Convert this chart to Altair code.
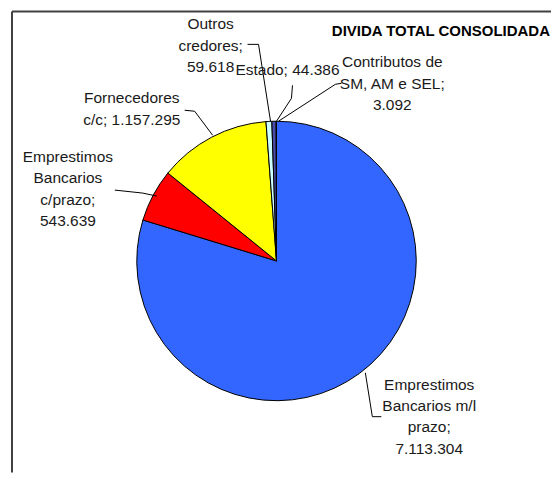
import altair as alt
import pandas as pd

# ---- data ----
categorias = [
    "Emprestimos Bancarios m/l prazo",
    "Emprestimos Bancarios c/prazo",
    "Fornecedores c/c",
    "Outros credores",
    "Estado",
    "Contributos de SM, AM e SEL",
]
valores = [7113304, 543639, 1157295, 59618, 44386, 3092]
cores = ["#3366FF", "#FF0000", "#FFFF00", "#CCFFFF", "#4B4BA8", "#1A1A66"]
rotulo_linhas = [
    ["Emprestimos", "Bancarios m/l", "prazo;", "{v}"],
    ["Emprestimos", "Bancarios", "c/prazo;", "{v}"],
    ["Fornecedores", "c/c; {v}"],
    ["Outros", "credores;", "{v}"],
    ["Estado; {v}"],
    ["Contributos de", "SM, AM e SEL;", "{v}"],
]
titulo = "DIVIDA TOTAL CONSOLIDADA"

# ---- layout (pixel positions of annotations) ----
W, H = 544, 465
CX, CY, R = 269, 253, 140
ancora_rotulo = [(422, 377), (60, 149), (124, 90), (203, 16), (280, 62), (385, 54)]
ESPACO = 21.3
guias = [
    [(358, 365), (365, 409), (374, 409)],
    [(107, 182), (135, 185), (149, 188)],
    [(177, 102), (187, 103), (205, 127)],
    [(240, 36), (251, 36), (263, 113)],
    [(285, 77), (284, 90), (269, 113)],
    [(334, 75), (328, 76), (271, 113)],
]


def fmt(v):
    return f"{v:,}".replace(",", ".")


pie_df = pd.DataFrame({
    "categoria": categorias,
    "valor": valores,
    "ordem": list(range(len(categorias))),
})

txt_rows = []
for i, linhas in enumerate(rotulo_linhas):
    ax, ay = ancora_rotulo[i]
    for j, ln in enumerate(linhas):
        txt_rows.append({"t": ln.format(v=fmt(valores[i])), "x": ax, "y": ay + j * ESPACO})
txt_df = pd.DataFrame(txt_rows)

g_rows = []
for i, pts in enumerate(guias):
    for k, (px, py) in enumerate(pts):
        g_rows.append({"g": i, "k": k, "x": px, "y": py})
g_df = pd.DataFrame(g_rows)

xs = alt.Scale(domain=[0, W], range=[0, W])
ys = alt.Scale(domain=[0, H], range=[0, H])

pie = alt.Chart(pie_df).mark_arc(radius=R, stroke="black", strokeWidth=1).encode(
    theta=alt.Theta("valor:Q", stack=True),
    order=alt.Order("ordem:Q"),
    color=alt.Color("categoria:N", scale=alt.Scale(domain=categorias, range=cores), legend=None),
    x=alt.value(CX),
    y=alt.value(CY),
)

linhas = alt.Chart(g_df).mark_line(color="black", strokeWidth=1).encode(
    x=alt.X("x:Q", scale=xs, axis=None),
    y=alt.Y("y:Q", scale=ys, axis=None),
    detail="g:N",
    order="k:Q",
)

textos = alt.Chart(txt_df).mark_text(
    font="Liberation Sans", fontSize=15.5, color="#1a1a1a", align="center", baseline="middle"
).encode(
    x=alt.X("x:Q", scale=xs, axis=None),
    y=alt.Y("y:Q", scale=ys, axis=None),
    text="t:N",
)

tit = alt.Chart(pd.DataFrame({"t": [titulo]})).mark_text(
    font="Liberation Sans", fontSize=15, fontWeight="bold", color="#000000",
    align="right", baseline="middle"
).encode(x=alt.value(543), y=alt.value(23), text="t:N")

topo = alt.Chart(pd.DataFrame({"a": [0]})).mark_rule(color="#404040", strokeWidth=2).encode(
    x=alt.value(4), x2=alt.value(W), y=alt.value(3)
)
esq = alt.Chart(pd.DataFrame({"a": [0]})).mark_rule(color="#404040", strokeWidth=2).encode(
    x=alt.value(4), y=alt.value(3), y2=alt.value(H)
)

chart = alt.layer(topo, esq, pie, linhas, textos, tit).properties(
    width=W, height=H, padding=0
).configure_view(stroke=None)

chart.save("out.html", embed_options={"renderer": "svg", "actions": False})
